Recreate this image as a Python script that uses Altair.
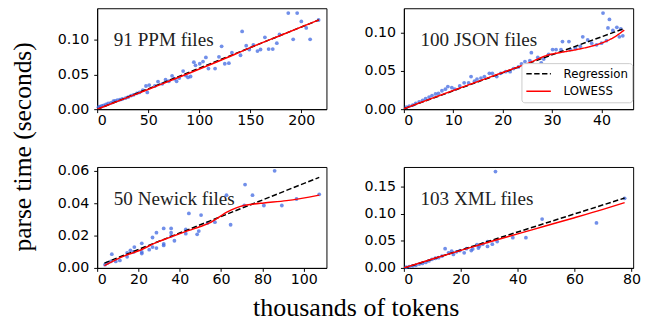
import altair as alt
import pandas as pd

# ---------------- data ----------------
ppm_x = [187.2, 195.9, 200, 204.8, 192, 208.6, 216.9, 142, 178.6, 164.3, 176, 168, 172, 160, 157, 153,
         149, 146, 140.4, 132, 129, 125, 121.9, 119.3, 115.5, 109, 106.5, 103.7, 100.5, 94.7, 91.5, 89,
         84.2, 80.4, 77.8, 73.4, 70.2, 67, 63.8, 59.6, 56.5, 51, 49.1, 47.8, 44.7, 41.5, 38.9, 35.7,
         33.2, 30.3, 27.8, 24.6, 22.3, 19.8, 17.5, 15.9, 13.4, 10.8, 8.6, 6.4, 4.5, 2.6, 1.3, 75.6,
         86.8, 96.3]
ppm_y = [0.139, 0.139, 0.127, 0.1175, 0.101, 0.101, 0.129, 0.1125, 0.108, 0.104, 0.0955, 0.087, 0.087,
         0.0863, 0.084, 0.093, 0.0863, 0.0918, 0.078, 0.0817, 0.0666, 0.0657, 0.0909, 0.0758, 0.0588,
         0.0588, 0.0748, 0.0689, 0.0657, 0.068, 0.0473, 0.0459, 0.0551, 0.045, 0.0404, 0.0482, 0.0404,
         0.0427, 0.0367, 0.040, 0.0335, 0.0349, 0.0243, 0.0335, 0.0275, 0.0243, 0.023, 0.0207, 0.0197,
         0.0174, 0.0161, 0.0147, 0.0138, 0.0129, 0.0119, 0.0115, 0.0092, 0.0083, 0.0069, 0.0055, 0.0046,
         0.0037, 0.0028, 0.044, 0.0487, 0.0634]
ppm_reg_x = [0, 217]
ppm_reg_y = [-0.0003, 0.129]
ppm_low_x = [0, 30, 60, 90, 120, 150, 180, 217]
ppm_low_y = [0.0, 0.0170, 0.0345, 0.0520, 0.0700, 0.0890, 0.1070, 0.1290]

json_x = [40.3, 41.6, 41.3, 43.1, 42.3, 43.9, 44.3, 43.6, 41, 40, 39, 38, 37.2, 36.2, 35.7, 34.7, 33.7,
          33.4, 32.1, 31.8, 30.8, 30.1, 29.3, 28.3, 27.8, 27.1, 25.8, 25.5, 24.5, 23.8, 23.2, 22.2, 21.5,
          20.6, 19.6, 18.8, 17.9, 17.3, 16.3, 15.6, 14.8, 13.6, 14.3, 13.1, 12.2, 11.3, 10.3, 9.7, 8.9,
          8.4, 7.7, 7, 6.4, 5.7, 5.1, 4.4, 3.8, 3.1, 2.4, 1.8, 1.1, 0.5]
json_y = [0.1257, 0.1174, 0.1062, 0.1071, 0.1029, 0.105, 0.0959, 0.0946, 0.0896, 0.0863, 0.0842, 0.0863,
          0.0905, 0.0946, 0.0822, 0.0801, 0.078, 0.0884, 0.0884, 0.078, 0.078, 0.078, 0.0718, 0.0656,
          0.0606, 0.0676, 0.0739, 0.0635, 0.0622, 0.0593, 0.0552, 0.0531, 0.049, 0.049, 0.0469, 0.0427,
          0.0469, 0.0469, 0.0427, 0.0407, 0.0394, 0.0427, 0.0365, 0.0344, 0.0344, 0.0303, 0.0261, 0.0282,
          0.0295, 0.0261, 0.0241, 0.0207, 0.0199, 0.0178, 0.0158, 0.0137, 0.0116, 0.0095, 0.0075, 0.0054,
          0.0041, 0.0025]
json_reg_x = [0, 44.6]
json_reg_y = [0.0005, 0.1055]
json_low_x = [0, 10, 20, 25.5, 29, 32, 35, 38, 40, 42.5, 44.6]
json_low_y = [0.0005, 0.0245, 0.048, 0.061, 0.0705, 0.0745, 0.078, 0.0825, 0.0865, 0.094, 0.1035]

nwk_x = [85.9, 71.6, 62.6, 75.2, 107.5, 71.2, 80.7, 89.4, 96.5, 44.4, 50.3, 64.6, 57, 53.4, 49.2, 42.9,
         42.9, 48.4, 35.8, 32.2, 35.8, 37.4, 35.8, 32.2, 32.2, 28.7, 26.8, 28.7, 26.8, 25.2, 21.6, 21.6,
         21.6, 18, 17.7, 16.1, 14.5, 14.5, 11, 9, 7.1, 6.6, 5, 3.8]
nwk_y = [0.060, 0.0515, 0.045, 0.045, 0.0455, 0.0386, 0.0386, 0.0386, 0.0426, 0.0337, 0.0327, 0.0267,
         0.0283, 0.0277, 0.0228, 0.0238, 0.0212, 0.0208, 0.0244, 0.0244, 0.0218, 0.0168, 0.0198, 0.0149,
         0.0139, 0.0218, 0.0188, 0.0123, 0.0129, 0.0113, 0.0152, 0.0099, 0.0089, 0.0129, 0.0099, 0.0109,
         0.0093, 0.0069, 0.0046, 0.004, 0.0085, 0.004, 0.003, 0.002]
nwk_reg_x = [3.5, 107.5]
nwk_reg_y = [0.003, 0.056]
nwk_low_x = [3.5, 12.9, 20.8, 28.7, 35.8, 44.4, 50, 55, 59, 63, 67, 71, 75, 80.7, 91.7, 107.5]
nwk_low_y = [0.0014, 0.0073, 0.0109, 0.0158, 0.0192, 0.0232, 0.0256, 0.0282, 0.0314, 0.0346, 0.0370,
             0.0386, 0.0394, 0.0402, 0.0416, 0.045]

xml_x = [32.2, 48.6, 67.7, 77.6, 38.3, 42.9, 14.5, 29.4, 31.1, 29.4, 25.7, 26.2, 23.7, 24.2, 21.2, 22,
         19.7, 18.5, 17.4, 16.8, 15.7, 13.4, 12.2, 11.1, 9.9, 8.8, 7.7, 6.5, 5.4, 4.2, 3.1, 1.9, 0.8,
         32.8, 26.5, 27.7]
xml_y = [0.1786, 0.0905, 0.0833, 0.129, 0.056, 0.056, 0.0357, 0.0488, 0.044, 0.0399, 0.0429, 0.0369,
         0.0321, 0.0351, 0.028, 0.0357, 0.0321, 0.0298, 0.025, 0.031, 0.028, 0.022, 0.019, 0.0179, 0.016,
         0.013, 0.0101, 0.0083, 0.0071, 0.0048, 0.0036, 0.0024, 0.0012, 0.0488, 0.04, 0.044]
xml_reg_x = [0, 77.6]
xml_reg_y = [-0.0005, 0.1295]
xml_low_x = [0, 10, 20, 30, 40, 50, 60, 70, 77.6]
xml_low_y = [0.0, 0.0165, 0.0325, 0.048, 0.063, 0.078, 0.093, 0.1085, 0.121]

labels = ["91 PPM files", "100 JSON files", "50 Newick files", "103 XML files"]
series_names = ["Regression", "LOWESS"]

W, H = 234, 103
SERIF = "Liberation Serif"
DASH = [5.5, 2.5]


def panel(px, py, rx, ry, lx, ly, label, xdom, ydom, xticks, yticks, legend=False):
    pts = pd.DataFrame({"x": px, "y": py})
    reg = pd.DataFrame({"x": rx, "y": ry, "series": series_names[0]})
    low = pd.DataFrame({"x": lx, "y": ly, "series": series_names[1]})
    xs = alt.Scale(domain=xdom, nice=False, zero=False)
    ys = alt.Scale(domain=ydom, nice=False, zero=False)
    X = alt.X("x:Q", scale=xs, axis=alt.Axis(values=xticks, format="d", title=None, labelPadding=1))
    Y = alt.Y("y:Q", scale=ys, axis=alt.Axis(values=yticks, format=".2f", title=None, labelPadding=5))
    if legend:
        leg = alt.Legend(title=None, orient="none", legendX=120, legendY=56, symbolType="stroke",
                         symbolSize=625, symbolStrokeWidth=1.5, labelFont="DejaVu Sans",
                         labelFontSize=12, labelColor="black", fillColor="white",
                         strokeColor="#cccccc", cornerRadius=3, padding=4, labelOffset=12,
                         rowPadding=4, clipHeight=13.5)
        cscale = alt.Scale(domain=series_names, range=["black", "red"])
        dscale = alt.Scale(domain=series_names, range=[DASH, [1, 0]])
        enc = dict(color=alt.Color("series:N", scale=cscale, legend=leg),
                   strokeDash=alt.StrokeDash("series:N", scale=dscale, legend=leg))
        enc1, enc2 = enc, enc
    else:
        enc1 = dict(color=alt.value("black"), strokeDash=alt.value(DASH))
        enc2 = dict(color=alt.value("red"))
    points = alt.Chart(pts).mark_circle(size=15, color="royalblue", opacity=0.75).encode(x=X, y=Y)
    l1 = alt.Chart(reg).mark_line(strokeWidth=1.5, clip=True).encode(x=X, y=Y, **enc1)
    l2 = alt.Chart(low).mark_line(strokeWidth=1.5, clip=True, interpolate="monotone").encode(
        x=X, y=Y, **enc2)
    txt = alt.Chart(pd.DataFrame({"t": [label]})).mark_text(
        align="left", baseline="alphabetic", font=SERIF, fontSize=19.5, color="#222222"
    ).encode(x=alt.value(17), y=alt.value(39), text="t:N")
    return alt.layer(points, l1, l2, txt).properties(width=W, height=H)


p1 = panel(ppm_x, ppm_y, ppm_reg_x, ppm_reg_y, ppm_low_x, ppm_low_y, labels[0],
           [0, 224.6], [0, 0.146], [0, 50, 100, 150, 200], [0, 0.05, 0.10])
p2 = panel(json_x, json_y, json_reg_x, json_reg_y, json_low_x, json_low_y, labels[1],
           [0, 46.4], [0, 0.132], [0, 10, 20, 30, 40], [0, 0.05, 0.10], legend=True)
p3 = panel(nwk_x, nwk_y, nwk_reg_x, nwk_reg_y, nwk_low_x, nwk_low_y, labels[2],
           [0, 111], [0, 0.0624], [0, 20, 40, 60, 80, 100], [0, 0.02, 0.04, 0.06])
p4 = panel(xml_x, xml_y, xml_reg_x, xml_reg_y, xml_low_x, xml_low_y, labels[3],
           [0, 80.6], [0, 0.187], [0, 20, 40, 60, 80], [0, 0.05, 0.10, 0.15])


def indep(c):
    return c.resolve_scale(color="independent", strokeDash="independent").resolve_legend(
        color="independent", strokeDash="independent")


row1 = indep(alt.hconcat(p1, p2, spacing=36))
row2 = indep(alt.hconcat(p3, p4, spacing=36))
inner = indep(alt.vconcat(row1, row2, spacing=35)).properties(
    title=alt.TitleParams("parse time (seconds)", orient="left", anchor="middle", font=SERIF,
                          fontSize=26, fontWeight="normal", color="black", offset=21))

chart = indep(alt.hconcat(inner)).properties(
    title=alt.TitleParams("thousands of tokens", orient="bottom", anchor="middle",
                          font=SERIF, fontSize=26.5, fontWeight="normal", color="black",
                          dx=31, offset=10),
    padding={"left": 2, "top": -4, "right": 0, "bottom": 0},
).configure_view(stroke="black", strokeWidth=1).configure_axis(
    grid=False, domainColor="black", tickColor="black", labelColor="black",
    labelFont="DejaVu Sans", labelFontSize=14.5, tickSize=3.5, domainWidth=1, tickWidth=1
)

chart.save("out.html", embed_options={"renderer": "svg", "actions": False})
